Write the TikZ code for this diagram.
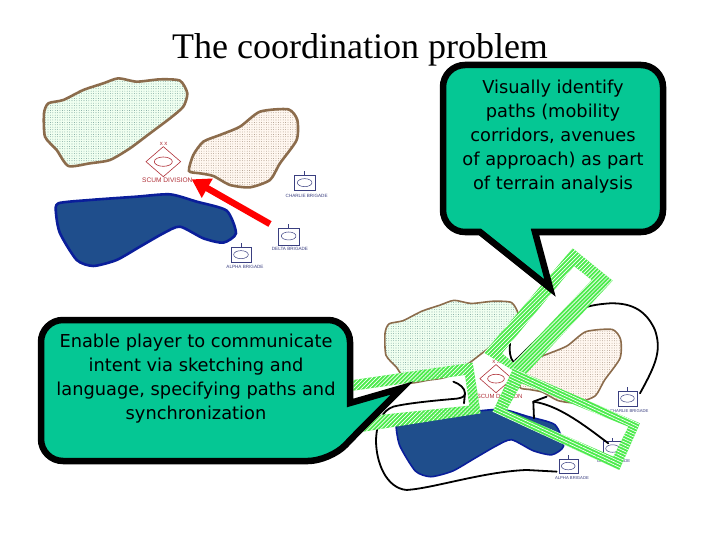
\documentclass[tikz,border=0pt]{standalone}
\usepackage{fontspec}
\setmainfont{Liberation Serif}
\setsansfont{Liberation Sans}
\newfontfamily\callfont{DejaVu Sans}
\usetikzlibrary{patterns.meta,arrows.meta}
\definecolor{tealc}{HTML}{05C794}
\definecolor{brownl}{HTML}{8C6C4C}
\definecolor{lakeblue}{HTML}{1F4E8C}
\definecolor{lakeedge}{HTML}{0A1E9A}
\definecolor{redunit}{HTML}{B03038}
\definecolor{blueunit}{HTML}{3A3F80}
\definecolor{bandg}{HTML}{4CEB4C}
\tikzset{
  terrainA/.style={draw=brownl,preaction={fill=#1},pattern={Dots[distance=2.4pt,radius=.3pt]},pattern color=black!45!teal},
  brigadebox/.style={draw=blueunit,line width=.5pt,fill=white},
  unitlabel/.style={font=\sffamily\fontsize{#1}{#1}\selectfont,text=blueunit,inner sep=0pt},
  band/.style={draw=none,preaction={fill=bandg},pattern={Lines[angle=45,distance=2.8pt,line width=.7pt]},pattern color=white},
  callout/.style={draw=black,line width=6.5pt,fill=tealc,line join=miter},
  calltext/.style={font=\callfont\fontsize{17.8}{24}\selectfont,align=center,inner sep=0pt},
  corridor/.style={draw=black,line width=1.8pt,line cap=round,line join=round},
}
\newcommand{\mapdraw}[4]{% prefix, line width, label size, unit label size
  \draw[terrainA=green!6!white,line width=#2] plot[smooth cycle,tension=.4] coordinates {(15,200)(12,130)(25,100)(70,90)(130,60)(190,40)(235,25)(290,35)(360,28)(420,32)(442,70)(430,110)(390,145)(330,190)(270,235)(210,270)(150,280)(85,288)(50,240)};
  \draw[terrainA=orange!6!white,line width=#2,pattern color=black!55!brown] plot[smooth cycle,tension=.4] coordinates {(447,303)(460,255)(490,215)(540,195)(600,170)(660,125)(745,118)(772,150)(770,210)(720,280)(690,330)(630,352)(570,345)(520,318)(480,310)};
  \draw[draw=lakeedge,fill=lakeblue,line width=#2] plot[smooth cycle,tension=.4] coordinates {(55,400)(150,390)(290,380)(390,373)(470,395)(560,422)(588,490)(550,518)(490,505)(420,470)(370,490)(300,530)(230,570)(160,588)(110,570)(60,490)(48,430)};
  % enemy division
  \draw[draw=redunit,line width=.6pt] (370,230) -- (422,275) -- (370,320) -- (318,275) -- cycle;
  \draw[draw=redunit,line width=.6pt] (370,275) ellipse [x radius=27,y radius=14];
  \node[text=redunit,font=\sffamily\fontsize{6}{6}\selectfont,inner sep=0pt] (#1xx) at (371,222) {x x};
  \node[text=redunit,font=\sffamily\fontsize{#3}{#3}\selectfont,inner sep=0pt] (#1scum) at (382,331) {SCUM DIVISION};
  % brigades
  \draw[brigadebox] (763,315) rectangle (825,362);
  \draw[brigadebox] (794,338) ellipse [x radius=22,y radius=12];
  \draw[brigadebox] (794,315) -- (794,303);
  \node[unitlabel=#4] (#1charlie) at (800,378) {CHARLIE BRIGADE};
  \draw[brigadebox] (715,475) rectangle (778,525);
  \draw[brigadebox] (746,498) ellipse [x radius=22,y radius=12];
  \draw[brigadebox] (746,475) -- (746,463);
  \node[unitlabel=#4] (#1delta) at (750,538) {DELTA BRIGADE};
  \draw[brigadebox] (573,532) rectangle (635,578);
  \draw[brigadebox] (603,554) ellipse [x radius=22,y radius=12];
  \draw[brigadebox] (603,532) -- (603,520);
  \node[unitlabel=#4] (#1alpha) at (615,592) {ALPHA BRIGADE};
}
\begin{document}
\begin{tikzpicture}[x=1pt,y=-1pt]
\useasboundingbox (0,0) rectangle (720,540);
\fill[white] (0,0) rectangle (720,540);
\node[font=\fontsize{36}{36}\selectfont,inner sep=0pt] (title) at (360,50) {The coordination problem};
% first map
\begin{scope}[shift={(40,70)},x=.3333pt,y=-.3333pt]
  \mapdraw{a}{2.6pt}{6.6}{4.6}
  \coordinate (arrowstart) at (690,462);
  \coordinate (arrowend) at (455,328);
  \draw[draw=red,line width=6.5pt,-{Triangle[length=18pt,width=21pt]}] (arrowstart) -- (arrowend);
\end{scope}
% second map
\begin{scope}[shift={(381.3,292.5)},x=.31pt,y=-.3133pt]
  \mapdraw{b}{1.6pt}{6}{4.2}
\end{scope}
\begin{scope}[shift={(350,240)},x=.3333pt,y=-.3333pt]
  % corridors
  \draw[corridor] (495,362) .. controls (540,320) and (590,262) .. (640,238) .. controls (670,215) and (700,195) .. (780,190) .. controls (850,188) and (890,215) .. (915,270) .. controls (935,330) and (920,370) .. (870,460);
  \draw[corridor] (480,310) .. controls (478,335) and (480,355) .. (490,365) -- (525,368);
  \draw[corridor] (310,425) .. controls (330,432) and (345,445) .. (345,460) .. controls (345,470) and (335,474) .. (320,476) .. controls (250,482) and (170,490) .. (130,500) .. controls (95,512) and (80,550) .. (78,600) .. controls (78,670) and (110,745) .. (170,750) .. controls (250,745) and (400,695) .. (530,690) -- (620,695);
  \draw[corridor] (345,460) -- (342,490);
  \draw[corridor] (552,535) -- (550,485) -- (590,470);
  \draw[corridor] (550,485) .. controls (620,495) and (690,545) .. (775,610);
  % bands
  \draw[band] (10,420) -- (368,368) -- (392,520) -- (40,575) -- (90,525) -- (358,497) -- (345,405) -- (10,452) -- cycle;
  \draw[band,even odd rule] (402,338) -- (668,25) -- (788,122) -- (520,410) -- cycle (456,340) -- (490,368) -- (725,120) -- (672,78) -- cycle;
  \draw[band,even odd rule,pattern={Lines[angle=-25,distance=2.8pt,line width=.7pt]}] (490,385) -- (870,550) -- (808,690) -- (428,515) -- cycle (515,430) -- (470,510) -- (790,650) -- (835,560) -- cycle;
\end{scope}
% callouts
\draw[callout] [rounded corners=22pt] (150,320) -- (350,320) -- (350,375) [sharp corners] -- (350,403) -- (402,388) -- (358,432) [rounded corners=22pt] -- (330,461) -- (41,461) -- (41,320) -- cycle;
\node[calltext] (lefttext) at (196,378.5) {Enable player to communicate\\intent via sketching and\\language, specifying paths and\\synchronization};
\draw[callout] [rounded corners=22pt] (550,65) -- (663,65) -- (663,232) -- (600,232) [sharp corners] -- (535,232) -- (550,288) -- (480,232) -- (465,232) [rounded corners=22pt] -- (443,232) -- (443,65) -- cycle;
\node[calltext] (righttext) at (553,136.5) {Visually identify\\paths (mobility\\corridors, avenues\\of approach) as part\\of terrain analysis};
\end{tikzpicture}
\end{document}
